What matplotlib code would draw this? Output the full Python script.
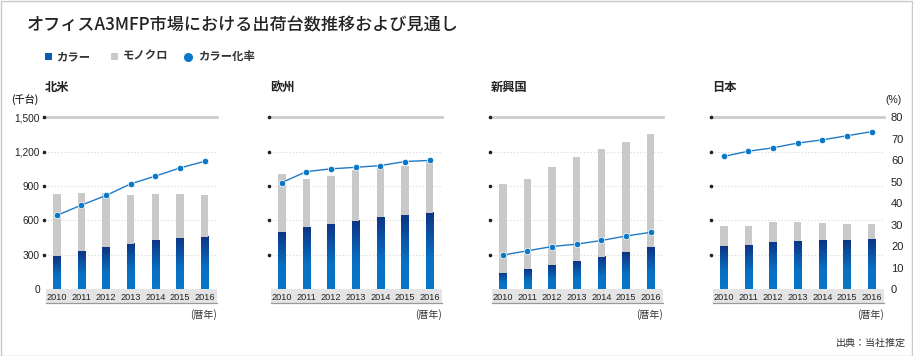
import numpy as np
import matplotlib
matplotlib.use("Agg")
import matplotlib.pyplot as plt
from matplotlib.colors import LinearSegmentedColormap
from matplotlib.patches import Rectangle
from matplotlib.lines import Line2D
from matplotlib import font_manager as fm
import matplotlib.transforms as mtrans

# ---------------- data ----------------
years = ["2010", "2011", "2012", "2013", "2014", "2015", "2016"]
regions = ["北米", "欧州", "新興国", "日本"]

na_color = [288, 329, 363, 395, 427, 447, 456]
na_mono = [541, 511, 472, 425, 402, 379, 367]
na_rate = [34.3, 39.1, 43.6, 49.0, 52.6, 56.4, 59.5]

eu_color = [497, 538, 567, 596, 625, 645, 665]
eu_mono = [512, 421, 418, 442, 441, 428, 442]
eu_rate = [49.6, 54.7, 56.0, 56.7, 57.5, 59.4, 59.9]

em_color = [140, 172, 207, 244, 282, 323, 364]
em_mono = [776, 793, 857, 910, 942, 962, 990]
em_rate = [15.8, 17.8, 19.8, 20.9, 22.6, 24.7, 26.4]

jp_color = [372, 384, 412, 419, 424, 427, 433]
jp_mono = [180, 163, 169, 162, 149, 143, 131]
jp_rate = [61.8, 64.2, 65.8, 68.0, 69.5, 71.4, 73.3]

units_ticks = [0, 300, 600, 900, 1200, 1500]
units_labels = ["0", "300", "600", "900", "1,200", "1,500"]
pct_ticks = [0, 10, 20, 30, 40, 50, 60, 70, 80]
pct_labels = ["0", "10", "20", "30", "40", "50", "60", "70", "80"]

series = [
    (na_color, na_mono, na_rate),
    (eu_color, eu_mono, eu_rate),
    (em_color, em_mono, em_rate),
    (jp_color, jp_mono, jp_rate),
]

# ---------------- fonts ----------------
names = {f.name for f in fm.fontManager.ttflist}
NUM = "Liberation Sans" if "Liberation Sans" in names else "DejaVu Sans"
NARROW = "Liberation Sans Narrow" if "Liberation Sans Narrow" in names else NUM
JP = ["Noto Sans CJK JP", "DejaVu Sans"]
plt.rcParams["font.family"] = JP

W, H = 913, 356
fig = plt.figure(figsize=(W / 100, H / 100), dpi=100)
fig.patch.set_facecolor("white")

def fx(px):
    return px / W

def fy(py):
    return 1 - py / H

# border
fig.add_artist(Rectangle((0.5 / W, 0.5 / H), 1 - 1.5 / W, 1 - 1.5 / H,
                         transform=fig.transFigure, fill=False,
                         edgecolor="#c8c8c8", lw=1.0))

# title
fig.text(fx(27), fy(25), "オフィスA3MFP市場における出荷台数推移および見通し",
         fontsize=12.3, fontweight="medium", ha="left", va="center", color="#222222")

# legend (manual)
GRAY = "#c9c9c9"
LINE = "#1f7ac6"
fig.add_artist(Rectangle((fx(45), fy(59.5)), 6.5 / W, 6.5 / H, transform=fig.transFigure,
                         facecolor="#0a5cae", edgecolor="none"))
fig.text(fx(56.5), fy(56.5), "カラー", fontsize=8.2, fontweight="bold", ha="left", va="center", color="#333333")
fig.add_artist(Rectangle((fx(111), fy(59.5)), 6.5 / W, 6.5 / H, transform=fig.transFigure,
                         facecolor=GRAY, edgecolor="none"))
fig.text(fx(122.5), fy(56.5), "モノクロ", fontsize=8.2, fontweight="bold", ha="left", va="center", color="#333333")
fig.add_artist(Line2D([fx(187.7)], [fy(56.5)], marker="o", ms=5.5, color="#0a78c8",
                      mec="#0a78c8", transform=fig.transFigure))
fig.text(fx(198.5), fy(56.5), "カラー化率", fontsize=8.2, fontweight="bold", ha="left", va="center", color="#333333")

fig.text(fx(11), fy(100), "(千台)", fontsize=7.2, fontweight="medium", ha="left", va="center", color="#222222")
fig.text(fx(902), fy(100), "(%)", fontsize=7.5, ha="right", va="center", color="#222222",
         family=[NUM])
fig.text(fx(906), fy(343), "出典：当社推定", fontsize=7.2, ha="right", va="center", color="#333333")

cmap = LinearSegmentedColormap.from_list("bluegrad", [(0.0, "#0876c8"), (0.4, "#0870c2"), (1.0, "#0d3585")])
grad = np.linspace(0, 1, 64).reshape(-1, 1)

lefts = [44, 269, 490, 711]
AX_W = 173
TOP, BOT = 117.3, 289.0
x = np.arange(len(years))
bw = 0.3
band_h = 14 / (BOT - TOP)

for i, (lp, (col, mono, rate)) in enumerate(zip(lefts, series)):
    ax = fig.add_axes([fx(lp), fy(BOT), AX_W / W, (BOT - TOP) / H])
    ax.set_facecolor("none")
    for s in ax.spines.values():
        s.set_visible(False)
    # gridlines
    for t in units_ticks[1:]:
        if t == units_ticks[-1]:
            ax.axhline(t, color="#cccccc", lw=2.0, zorder=1, clip_on=False)
        else:
            ax.axhline(t, color="#dcdcdc", lw=0.8, ls=(0, (1.2, 1.8)), zorder=1)
    # tick dots
    ax.plot(np.zeros(len(units_ticks) - 1), units_ticks[1:], "o", ms=1.6, color="#222222",
            transform=ax.get_yaxis_transform(), clip_on=False, zorder=5)
    # bars
    for xi, c in zip(x, col):
        ax.imshow(grad, extent=(xi - bw / 2, xi + bw / 2, 0, c), origin="lower",
                  aspect="auto", cmap=cmap, interpolation="bilinear", zorder=2)
    ax.bar(x, mono, bottom=col, width=bw, color=GRAY, zorder=2, linewidth=0)
    ax.set_xlim(-0.52, 6.5)
    ax.set_ylim(0, 1500)
    # band under axis
    trb = mtrans.blended_transform_factory(ax.transData, ax.transAxes)
    ax.add_patch(Rectangle((-0.42, -band_h), 6.92, band_h, transform=trb,
                           facecolor="#e4e4e4", edgecolor="none", clip_on=False, zorder=0))
    ax.plot([-0.42, 6.5], [-band_h, -band_h], transform=trb, color="#9a9a9a", lw=0.9,
            clip_on=False, zorder=1)
    ax.set_xticks(x, years)
    ax.tick_params(axis="x", length=0, pad=3.2, labelsize=6.6, labelcolor="#222222")
    for lab in ax.get_xticklabels():
        lab.set_family(NARROW)
    if i == 0:
        ax.set_yticks(units_ticks, units_labels)
        ax.tick_params(axis="y", length=0, pad=3.0, labelsize=7.3, labelcolor="#222222")
        for lab in ax.get_yticklabels():
            lab.set_family(NUM)
    else:
        ax.set_yticks([])
    # rate line
    ax2 = ax.twinx()
    for s in ax2.spines.values():
        s.set_visible(False)
    ax2.set_ylim(0, 80)
    ax2.plot(x, rate, color=LINE, lw=1.0, marker="o", ms=4.6, mfc="#0a78c8", mec="white",
             mew=0.5, zorder=6, clip_on=False)
    if i == 3:
        ax2.set_yticks(pct_ticks, pct_labels)
        ax2.tick_params(axis="y", length=0, pad=5.0, labelsize=8.0, labelcolor="#222222")
        for lab in ax2.get_yticklabels():
            lab.set_family(NUM)
    else:
        ax2.set_yticks([])
    ax2.set_xlim(-0.52, 6.5)
    # headings and year unit
    fig.text(fx(lp + 1), fy(87), regions[i], fontsize=8.8, fontweight="bold",
             ha="left", va="center", color="#222222")
    fig.text(fx(lp + AX_W), fy(315), "(暦年)", fontsize=7.2, ha="right", va="center",
             color="#333333")

fig.savefig("out.png", dpi=100, facecolor="white")
